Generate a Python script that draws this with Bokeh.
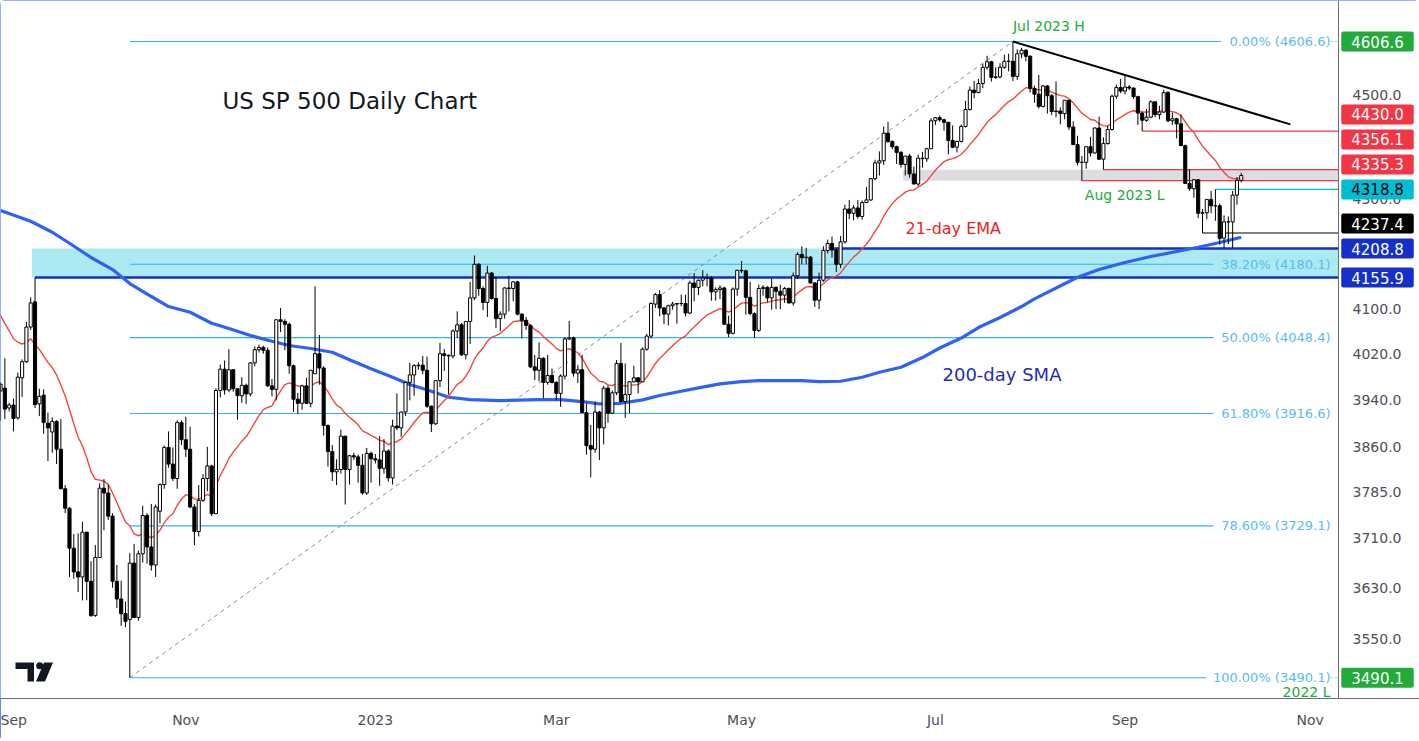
import math
import numpy as np
import pandas as pd
from bokeh.plotting import figure
from bokeh.models import Range1d, FixedTicker, Label, Span
from bokeh.embed import file_html
from bokeh.resources import INLINE

# ---------------- data (daily CFD bars, holidays included) ----------------
dates = pd.bdate_range("2022-09-01", "2023-10-10")

opens = [
    # Sep 2022
    3955, 3960, 3926, 3931, 3909, 3978, 4006, 4067, 4112, 3933, 3948, 3900, 3885, 3903, 3856, 3790, 3758, 3693, 3655, 3647, 3719, 3640,
    # Oct 2022
    3586, 3678, 3791, 3783, 3745, 3640, 3612, 3589, 3580, 3669, 3583, 3684, 3746, 3695, 3666, 3753, 3797, 3859, 3831, 3807, 3901,
    # Nov 2022
    3872, 3856, 3760, 3720, 3771, 3807, 3828, 3749, 3956, 3993, 3957, 3992, 3959, 3947, 3965, 3950, 4004, 4027, 4031, 4026, 3964, 3958,
    # Dec 2022
    4080, 4077, 4072, 3999, 3941, 3934, 3964, 3934, 3985, 4020, 3995, 3896, 3852, 3818, 3822, 3878, 3822, 3845, 3843, 3829, 3783, 3849,
    # Jan 2023
    3840, 3838, 3824, 3853, 3808, 3895, 3892, 3919, 3970, 3983, 3999, 4000, 3991, 3929, 3899, 3973, 4020, 4017, 4016, 4060, 4071, 4018,
    # Feb 2023
    4077, 4119, 4180, 4136, 4111, 4164, 4118, 4082, 4090, 4137, 4136, 4148, 4090, 4079, 4070, 3997, 3991, 4012, 3970, 3982,
    # Mar 2023
    3970, 3951, 3981, 4046, 4048, 3986, 3992, 3918, 3862, 3856, 3919, 3892, 3960, 3917, 3952, 4003, 3937, 3949, 3971, 3978, 3971, 4028, 4051,
    # Apr 2023
    4108, 4125, 4101, 4090, 4105, 4108, 4109, 4109, 4092, 4146, 4138, 4151, 4155, 4155, 4130, 4134, 4137, 4072, 4056, 4135,
    # May 2023
    4169, 4168, 4120, 4091, 4061, 4136, 4138, 4119, 4138, 4131, 4124, 4136, 4110, 4159, 4198, 4192, 4193, 4146, 4115, 4151, 4205, 4218, 4206,
    # Jun 2023
    4180, 4221, 4282, 4274, 4284, 4268, 4294, 4299, 4339, 4369, 4373, 4426, 4410, 4400, 4389, 4366, 4382, 4348, 4329, 4378, 4377, 4396,
    # Jul 2023
    4450, 4456, 4452, 4447, 4412, 4399, 4410, 4439, 4472, 4510, 4505, 4523, 4555, 4566, 4535, 4536, 4555, 4567, 4567, 4537, 4582,
    # Aug 2023
    4589, 4577, 4513, 4502, 4478, 4518, 4499, 4468, 4469, 4464, 4490, 4438, 4404, 4370, 4370, 4400, 4388, 4436, 4376, 4406, 4433, 4498, 4515,
    # Sep 2023
    4508, 4516, 4514, 4497, 4465, 4451, 4457, 4487, 4462, 4467, 4505, 4450, 4454, 4444, 4402, 4330, 4320, 4337, 4274, 4275, 4300,
    # Oct 2023
    4288, 4288, 4228, 4258, 4258, 4308, 4336,
]
highs = [
    3970, 4012, 3935, 3942, 3987, 4010, 4076, 4120, 4155.9, 3959, 3958, 3918, 3910, 3905, 3907, 3796, 3760, 3716, 3717, 3736, 3719, 3672,
    3698, 3799, 3806, 3797, 3750, 3666, 3641, 3608, 3685, 3700, 3689, 3762, 3750, 3765, 3764, 3799, 3862, 3886, 3859, 3905, 3905,
    3911, 3894, 3765, 3796, 3814, 3860, 3830, 3960, 4001, 4008, 4028, 3993, 3959, 3979, 3968, 4005, 4033, 4036, 4034, 4031, 3976, 4080,
    4101, 4081, 4075, 4001, 3952, 3966, 3978, 3991, 4140, 4053, 3998, 3898, 3863, 3839, 3889, 3878, 3846, 3850, 3847, 3848, 3858, 3852,
    3848, 3878, 3873, 3856, 3906, 3951, 3920, 3971, 4004, 4002, 4005, 4016, 4015, 3930, 3973, 4039, 4028, 4019, 4063, 4095, 4074, 4077,
    4148, 4196, 4182, 4140, 4177, 4166, 4157, 4095, 4138, 4159, 4149, 4150, 4092, 4085, 4072, 4018, 4040, 4014, 4018, 3994,
    3972, 3984, 4049, 4078, 4050, 4000, 4018, 3934, 3897, 3937, 3921, 3964, 3965, 3956, 4009, 4039, 4003, 3972, 3999, 3979, 4031, 4055, 4110,
    4128, 4133, 4103, 4107, 4112, 4110, 4125, 4125, 4150, 4164, 4152, 4169, 4163, 4158, 4138, 4142, 4139, 4087, 4138, 4170,
    4186, 4170, 4148, 4093, 4143, 4142, 4140, 4154, 4140, 4143, 4139, 4138, 4165, 4202, 4213, 4210, 4195, 4148, 4165, 4213, 4225, 4231, 4208,
    4232, 4290, 4299, 4289, 4299, 4298, 4323, 4340, 4375, 4391, 4439, 4448, 4412, 4402, 4392, 4382, 4386, 4362, 4385, 4390, 4398, 4455,
    4456, 4460, 4454, 4448, 4441, 4412, 4443, 4489, 4517, 4528, 4532, 4562, 4578, 4568, 4555, 4563, 4580, 4582, 4606.6, 4591, 4594,
    4591, 4579, 4519, 4540, 4520, 4520, 4502, 4527, 4476, 4490, 4491, 4449, 4421, 4382, 4400, 4419, 4437, 4458, 4418, 4440, 4501, 4521, 4532,
    4541, 4520, 4515, 4499, 4467, 4473, 4490, 4488, 4479, 4511, 4508, 4466, 4456, 4462, 4404, 4357, 4338, 4338, 4282, 4300, 4316,
    4318.8, 4292, 4270, 4268, 4316, 4342, 4350,
]
lows = [
    3904, 3907, 3920, 3886, 3906, 3945, 4004, 4062, 3926, 3912, 3882, 3836, 3850, 3831, 3789, 3750, 3647, 3644, 3623, 3610, 3610, 3584,
    3584, 3678, 3722, 3739, 3630, 3598, 3570, 3568, 3490.1, 3582, 3578, 3670, 3668, 3657, 3647, 3733, 3790, 3825, 3803, 3790, 3863,
    3843, 3758, 3698, 3712, 3768, 3786, 3745, 3749, 3944, 3949, 3953, 3954, 3906, 3935, 3933, 3946, 3998, 4022, 4020, 3962, 3946, 3939,
    4058, 4026, 3985, 3919, 3916, 3923, 3933, 3927, 3985, 3966, 3879, 3827, 3803, 3796, 3815, 3764, 3797, 3838, 3800, 3780, 3780, 3800,
    3832, 3795, 3815, 3802, 3797, 3888, 3877, 3912, 3939, 3947, 3992, 3984, 3926, 3885, 3897, 3962, 3990, 3949, 4012, 4048, 4016, 4010,
    4037, 4115, 4123, 4097, 4085, 4116, 4065, 4060, 4082, 4095, 4113, 4088, 4047, 4062, 3995, 3974, 3972, 3943, 3966, 3968,
    3939, 3928, 3975, 4044, 3980, 3969, 3919, 3847, 3809, 3850, 3838, 3864, 3901, 3916, 3948, 3936, 3909, 3917, 3970, 3951, 3972, 4025, 4047,
    4101, 4086, 4072, 4070, 4098, 4073, 4104, 4086, 4090, 4113, 4124, 4140, 4140, 4114, 4114, 4117, 4071, 4049, 4054, 4123,
    4164, 4089, 4088, 4048, 4058, 4123, 4111, 4098, 4099, 4099, 4110, 4109, 4105, 4153, 4180, 4180, 4145, 4103, 4099, 4148, 4200, 4192, 4166,
    4173, 4218, 4263, 4261, 4264, 4262, 4293, 4297, 4336, 4345, 4365, 4407, 4395, 4367, 4360, 4345, 4341, 4328, 4325, 4360, 4371, 4396,
    4442, 4448, 4431, 4385, 4397, 4389, 4408, 4437, 4470, 4494, 4504, 4514, 4550, 4527, 4532, 4533, 4552, 4547, 4528, 4530, 4573,
    4567, 4505, 4485, 4474, 4476, 4464, 4461, 4457, 4443, 4453, 4432, 4403, 4364, 4335.3, 4358, 4381, 4386, 4375, 4356.1, 4404, 4431, 4493, 4504,
    4502, 4510, 4493, 4442, 4430, 4448, 4455, 4457, 4453, 4465, 4447, 4442, 4416, 4402, 4329, 4316, 4303, 4265, 4237.4, 4263, 4274,
    4260, 4216, 4208.8, 4217, 4210, 4290, 4332,
]
closes = [
    3967, 3924, 3931, 3908, 3979, 4006, 4067, 4110, 3932, 3946, 3901, 3892, 3903, 3856, 3790, 3758, 3693, 3655, 3647, 3719, 3640, 3586,
    3678, 3791, 3783, 3745, 3640, 3612, 3589, 3577, 3669, 3583, 3684, 3746, 3695, 3666, 3760, 3797, 3859, 3831, 3807, 3901, 3872,
    3856, 3760, 3720, 3771, 3807, 3828, 3749, 3956, 3993, 3957, 3992, 3959, 3947, 3965, 3950, 4004, 4027, 4031, 4026, 3964, 3958, 4080,
    4077, 4072, 3999, 3941, 3934, 3964, 3934, 3991, 4020, 3995, 3896, 3852, 3818, 3822, 3878, 3822, 3845, 3843, 3829, 3783, 3849, 3840,
    3838, 3824, 3853, 3808, 3895, 3892, 3919, 3970, 3983, 3999, 4000, 3991, 3929, 3899, 3973, 4020, 4017, 4016, 4060, 4071, 4018, 4077,
    4119, 4180, 4136, 4111, 4164, 4118, 4082, 4090, 4137, 4136, 4148, 4090, 4079, 4070, 3997, 3991, 4012, 3970, 3982, 3970,
    3951, 3981, 4046, 4048, 3986, 3992, 3918, 3862, 3856, 3919, 3892, 3960, 3917, 3952, 4003, 3937, 3949, 3971, 3978, 3971, 4028, 4051, 4109,
    4125, 4101, 4090, 4105, 4108, 4109, 4109, 4092, 4146, 4138, 4151, 4155, 4155, 4130, 4134, 4137, 4072, 4056, 4135, 4169,
    4168, 4120, 4091, 4061, 4136, 4138, 4119, 4138, 4131, 4124, 4136, 4110, 4159, 4198, 4192, 4193, 4146, 4115, 4151, 4205, 4218, 4206, 4180,
    4221, 4282, 4274, 4284, 4268, 4294, 4299, 4339, 4369, 4373, 4426, 4410, 4400, 4389, 4366, 4382, 4348, 4329, 4378, 4377, 4396, 4450,
    4456, 4452, 4447, 4412, 4399, 4410, 4439, 4472, 4510, 4505, 4523, 4555, 4566, 4535, 4536, 4555, 4567, 4567, 4537, 4582, 4589,
    4577, 4513, 4502, 4478, 4518, 4499, 4468, 4469, 4464, 4490, 4438, 4404, 4370, 4370, 4400, 4388, 4436, 4376, 4406, 4433, 4498, 4515, 4508,
    4516, 4514, 4497, 4465, 4451, 4457, 4487, 4462, 4467, 4505, 4450, 4454, 4444, 4402, 4330, 4320, 4337, 4274, 4275, 4300, 4288,
    4288, 4227, 4258, 4258, 4308, 4336, 4345,
]

ema_period = 21
ema_seed = 4088.0  # value of the 21-day EMA at the first bar

# 200-day SMA (bar index, value)
sma_idx = [0, 7, 12, 16, 21, 26, 30, 35, 39, 44, 49, 53, 58, 63, 67, 72, 77, 81, 86, 91, 95, 100, 104, 109, 116,
           125, 130, 135, 139, 144, 149, 153, 158, 162, 167, 172, 176, 181, 186, 190, 195, 200, 204, 209, 214,
           218, 223, 227, 232, 237, 240, 250, 255, 261, 267, 273, 278, 283, 288]
sma_val = [4279.2, 4259.2, 4238.8, 4218.5, 4192.3, 4170.4, 4145.0, 4121.6, 4103.6, 4093.4, 4073.8, 4064.4, 4052.0,
           4041.9, 4034.4, 4029.1, 4022.6, 4009.3, 3993.6, 3979.0, 3966.3, 3954.8, 3944.4, 3940.4, 3938.7,
           3940.4, 3940.4, 3937.0, 3933.0, 3934.0, 3939.9, 3947.3, 3954.8, 3960.6, 3967.5, 3971.5, 3973.2, 3973.2,
           3973.2, 3971.5, 3972.0, 3979.0, 3987.7, 3996.4, 4013.3, 4030.0, 4047.6, 4066.2, 4084.0, 4103.6,
           4117.4, 4156.4, 4170.4, 4183.2, 4194.1, 4203.3, 4211.2, 4219.9, 4229.6]

# Fibonacci retracement (Oct 2022 low -> Jul 2023 high)
fib_high, fib_low = 4606.63, 3490.13
fib_low_bar, fib_high_bar = 30, 235
fib_ratios = [0.0, 0.382, 0.5, 0.618, 0.786, 1.0]

# Trendline anchors (bar, price)
trend_bars = [235, 299.4]
trend_prices = [4606.6, 4443.0]

# Horizontal levels: price, first bar, colour, width
level_prices = [4430.0, 4356.1, 4335.3, 4318.8, 4237.4, 4208.8, 4155.9]
level_start = [265, 256, 251, 282, 279, 193, 8]
level_colors = ["#f23645", "#f23645", "#f23645", "#00bcd4", "#000000", "#1230c4", "#1230c4"]
level_widths = [1.2, 1.2, 1.2, 1.4, 1.2, 2.4, 2.4]

# Zones: (bottom, top, first bar)
support_zone = (4155.9, 4208.8, 7.3)
grey_zone = (4335.3, 4356.1, 209.5)

# Price tags on the axis: price, background, text colour
tag_prices = [4606.6, 4430.0, 4356.1, 4335.3, 4318.8, 4237.4, 4208.8, 4155.9, 3490.1]
tag_bg = ["#22ab3a", "#f23645", "#f23645", "#f23645", "#00bcd4", "#000000", "#1530c8", "#1530c8", "#22ab3a"]
tag_fg = ["white", "white", "white", "white", "black", "white", "white", "white", "white"]

ytick_vals = [3550, 3630, 3710, 3785, 3860, 3940, 4020, 4100, 4300, 4500]

# ---------------- layout constants ----------------
W, H = 1419, 741
FRAME_H = 698
AXIS_SEP_PX = 1338          # left edge of the price-scale column
X0 = -0.014
BAR_PX = 4.308
X1 = X0 + W / BAR_PX
Y_MAX = 4689.75
Y_MIN = 3458.6


def px_to_bar(px):
    return X0 + px / BAR_PX


def price_to_py(pr):
    return FRAME_H * (math.log(Y_MAX) - math.log(pr)) / (math.log(Y_MAX) - math.log(Y_MIN))


def py_to_price(py):
    return math.exp(math.log(Y_MAX) - py / FRAME_H * (math.log(Y_MAX) - math.log(Y_MIN)))


X_SEP = px_to_bar(AXIS_SEP_PX)

n = len(dates)
x = np.arange(n)
o = np.array(opens, float)
h = np.array(highs, float)
l = np.array(lows, float)
c = np.array(closes, float)
assert len(o) == len(h) == len(l) == len(c) == n, (len(o), len(h), len(l), len(c), n)

alpha = 2.0 / (ema_period + 1)
ema = [ema_seed]
for v in c[1:]:
    ema.append(ema[-1] + alpha * (v - ema[-1]))

p = figure(width=W, height=H, output_backend="svg", toolbar_location=None,
           y_axis_type="log", y_axis_location=None,
           x_range=Range1d(X0, X1), y_range=Range1d(Y_MIN, Y_MAX),
           min_border_left=0, min_border_top=0, min_border_right=0,
           min_border_bottom=H - FRAME_H)
p.background_fill_color = "white"
p.border_fill_color = "white"
p.outline_line_color = None
p.xgrid.grid_line_color = None
p.ygrid.grid_line_color = None
p.styles = {"outline": "2px solid #2962ff", "outline-offset": "-2px", "border-radius": "5px"}

# zones
p.quad(left=support_zone[2], right=X_SEP, bottom=support_zone[0], top=support_zone[1],
       fill_color="#ade9f0", line_color=None)
p.quad(left=grey_zone[2], right=X_SEP, bottom=grey_zone[0], top=grey_zone[1],
       fill_color="#dcdde1", line_color=None)

# fib levels
fib_label_right_px = 1330
fib_levels = [fib_high - r * (fib_high - fib_low) for r in fib_ratios]
fib_texts = []
for r, lv in zip(fib_ratios, fib_levels):
    txt = f"{r*100:.2f}% ({lv:.1f})"
    fib_texts.append(txt)
    end_px = fib_label_right_px - 7.4 * len(txt) - 6
    p.segment(x0=fib_low_bar, y0=lv, x1=px_to_bar(end_px), y1=lv, line_color="#29b6f6", line_width=1.1)
# dotted price-line continuation for the two fib extremes
for lv in (fib_levels[0], fib_levels[-1]):
    p.segment(x0=px_to_bar(fib_label_right_px + 1), y0=lv, x1=X_SEP, y1=lv, line_color="#22ab3a",
              line_width=1, line_dash="1 3")

# dashed fib diagonal
p.line([fib_low_bar, fib_high_bar], [fib_low, fib_high], line_color="#8a8a8a", line_dash="4 4", line_width=1)

# horizontal levels
for lp, ls, lc, lw in zip(level_prices, level_start, level_colors, level_widths):
    p.segment(x0=ls, y0=lp, x1=X_SEP, y1=lp, line_color=lc, line_width=lw)

# moving averages
p.line(sma_idx, sma_val, line_color="#2d62f6", line_width=3.2)
p.line(x, ema, line_color="#f2473d", line_width=1.4)

# candles
inc = c >= o
p.segment(x0=x, y0=h, x1=x, y1=l, line_color="black", line_width=1)
top = np.maximum(o, c)
bot = np.minimum(o, c)
p.vbar(x=x[inc], width=0.72, top=top[inc], bottom=bot[inc], fill_color="white", line_color="black", line_width=1)
p.vbar(x=x[~inc], width=0.72, top=top[~inc], bottom=bot[~inc], fill_color="black", line_color="black", line_width=1)

# trendline
p.line(trend_bars, trend_prices, line_color="black", line_width=2)

# fib labels
for txt, lv in zip(fib_texts, fib_levels):
    p.add_layout(Label(x=px_to_bar(fib_label_right_px), y=lv, text=txt, text_align="right",
                       text_baseline="middle", text_color="#55bdf0", text_font="DejaVu Sans",
                       text_font_size="13px"))

# text annotations
p.add_layout(Label(x=px_to_bar(222), y=py_to_price(100), text="US SP 500 Daily Chart", text_align="left",
                   text_baseline="middle", text_color="#131722", text_font="DejaVu Sans", text_font_size="23px"))
p.add_layout(Label(x=px_to_bar(905), y=py_to_price(228), text="21-day EMA", text_align="left",
                   text_baseline="middle", text_color="#f01d1d", text_font="DejaVu Sans", text_font_size="16px"))
p.add_layout(Label(x=px_to_bar(942), y=py_to_price(374), text="200-day SMA", text_align="left",
                   text_baseline="middle", text_color="#1d2fb5", text_font="DejaVu Sans", text_font_size="18px"))
p.add_layout(Label(x=fib_high_bar, y=fib_high, text="Jul 2023 H", text_align="left", text_baseline="bottom",
                   y_offset=7, text_color="#22ab3a", text_font="DejaVu Sans", text_font_size="14px"))
p.add_layout(Label(x=251, y=4335.3, x_offset=3, y_offset=-6, text="Aug 2023 L", text_align="left",
                   text_baseline="top", text_color="#22ab3a", text_font="DejaVu Sans", text_font_size="14px"))
p.add_layout(Label(x=px_to_bar(1330), y=fib_low, y_offset=-6, text="2022 L", text_align="right",
                   text_baseline="top", text_color="#22ab3a", text_font="DejaVu Sans", text_font_size="14px"))

# TradingView logo (drawn in screen pixels)
def scr(xs, ys):
    return [px_to_bar(v) for v in xs], [py_to_price(v) for v in ys]

lx, ly = scr([15, 33.5, 33.5, 27, 27, 15], [662, 662, 681, 681, 668.5, 668.5])
p.patch(lx, ly, fill_color="#131722", line_color=None)
lx, ly = scr([43.5, 52.5, 44.5, 35.5], [662, 662, 681, 681])
p.patch(lx, ly, fill_color="#131722", line_color=None)
cx, cy = scr([39.2], [665.3])
p.scatter(cx, cy, size=7, marker="circle", fill_color="#131722", line_color=None)

# ---------- price scale column ----------
p.add_layout(Span(location=X_SEP, dimension="height", line_color="#6a6d78", line_width=1))
tick_x = px_to_bar(1352)
for tv in ytick_vals:
    p.add_layout(Label(x=tick_x, y=tv, text=f"{tv:.1f}", text_align="left", text_baseline="middle",
                       text_color="#4d4f57", text_font="DejaVu Sans", text_font_size="14px"))

TAG_H = 25
order = sorted(range(len(tag_prices)), key=lambda k: tag_prices[k])
placed = {}
prev = None
for k in order:
    py = price_to_py(tag_prices[k])
    if prev is not None:
        py = min(py, prev - TAG_H)
    placed[k] = py
    prev = py
tag_x = px_to_bar(1377)
for k in range(len(tag_prices)):
    p.add_layout(Label(x=tag_x, y=py_to_price(placed[k]), text=f"{tag_prices[k]:.1f}", text_align="center",
                       text_baseline="middle", text_color=tag_fg[k], text_font="DejaVu Sans",
                       text_font_size="15px", background_fill_color=tag_bg[k],
                       padding=dict(left=10, right=10, top=4, bottom=4), border_radius=2))

# x axis: month labels every two months, year for January
all_days = pd.bdate_range(dates[0], "2023-11-30")
xt, xl = [], {}
for i, d in enumerate(all_days):
    if i == 0 or d.month != all_days[i - 1].month:
        if d.month % 2 == 1:
            xt.append(i)
            xl[i] = str(d.year) if d.month == 1 else d.strftime("%b")
p.xaxis.ticker = FixedTicker(ticks=xt)
p.xaxis.major_label_overrides = xl
p.xaxis.major_tick_line_color = None
p.xaxis.minor_tick_line_color = None
p.xaxis.major_label_standoff = 7
p.xaxis.axis_line_color = "#6a6d78"
p.xaxis.major_label_text_font = "DejaVu Sans"
p.xaxis.major_label_text_font_size = "14px"
p.xaxis.major_label_text_color = "#4d4f57"

open("out.html", "w").write(file_html(p, INLINE))
